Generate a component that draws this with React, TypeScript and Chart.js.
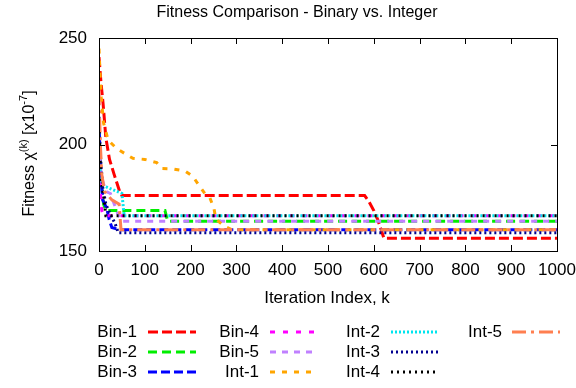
import React, { useEffect, useRef } from "react";
import Chart from "chart.js/auto";

const FONT = "'Liberation Sans', Arial, Helvetica, sans-serif";

// Axis ticks
const xTicks = [0, 100, 200, 300, 400, 500, 600, 700, 800, 900, 1000];
const yTicks = [150, 200, 250];

// Convergence histories: iteration index k and fitness value (x1e-7)
const bin1K = [0, 4, 9, 15, 23, 33, 45, 50, 580, 590, 600, 608, 616, 622, 1000];
const bin1V = [241, 230, 219, 203, 193, 186, 178, 176, 176, 173, 169, 165, 160, 156, 156];

const bin2K = [0, 3, 6, 10, 15, 144, 150, 1000];
const bin2V = [207, 190, 180, 172, 169, 169, 164, 164];

const bin3K = [0, 3, 8, 17, 22, 28, 45, 1000];
const bin3V = [211, 188, 174, 170, 165, 161, 160, 160];

const bin4K = [0, 3, 6, 10, 1000];
const bin4V = [195, 178, 169, 166.5, 166.5];

const bin5K = [0, 5, 15, 25, 40, 50, 1000];
const bin5V = [200, 185, 178, 177, 168, 164, 164];

const int1K = [0, 2, 5, 10, 20, 39, 74, 100, 126, 137, 162, 188, 205, 216, 231, 242, 251, 255, 271, 290, 1000];
const int1V = [245, 235, 222, 210, 202, 198, 193.5, 193, 191.5, 188.7, 188.5, 187.5, 185, 181.5, 177, 175, 170, 165, 162, 160, 160];

const int2K = [0, 3, 8, 17, 50, 55, 1000];
const int2V = [196, 185, 181, 180, 177, 166.5, 166.5];

const int3K = [0, 3, 8, 15, 25, 35, 42, 1000];
const int3V = [213, 195, 180, 172, 167, 163, 158.6, 158.6];

const int4K = [0, 2, 5, 10, 15, 1000];
const int4V = [212, 195, 182, 176, 166.5, 166.5];

const int5K = [0, 3, 6, 12, 28, 44, 48, 1000];
const int5V = [225, 200, 186, 178, 174, 172, 160, 160];

const seriesNames = ["Bin-1", "Bin-2", "Bin-3", "Bin-4", "Bin-5", "Int-1", "Int-2", "Int-3", "Int-4", "Int-5"];
const seriesK = [bin1K, bin2K, bin3K, bin4K, bin5K, int1K, int2K, int3K, int4K, int5K];
const seriesV = [bin1V, bin2V, bin3V, bin4V, bin5V, int1V, int2V, int3V, int4V, int5V];
const seriesColors = ["#ff0000", "#00ee00", "#0000ff", "#ff00ff", "#c080ff", "#ffa500", "#00e5ee", "#000090", "#000000", "#ff7f50"];
const seriesDash = [
  [10, 4],
  [9, 5],
  [9, 4],
  [5, 8],
  [6, 6],
  [5, 7],
  [2, 2],
  [2, 3],
  [2, 4],
  [14, 5, 3, 5],
];

// Legend grid: column positions (text right edge, sample start) and row centres
const legendCols = [
  { textRight: 137, sample: 148 },
  { textRight: 259, sample: 270 },
  { textRight: 380, sample: 391 },
  { textRight: 502, sample: 512 },
];
const legendRows = [332, 352, 372];
const legendSampleLen = 48;

const framePlugin = {
  id: "frameAndTicks",
  afterDatasetsDraw(chart: any) {
    const { ctx, chartArea: a, scales } = chart;
    ctx.save();
    ctx.strokeStyle = "#000";
    ctx.lineWidth = 1;
    ctx.setLineDash([]);
    ctx.strokeRect(Math.round(a.left) + 0.5, Math.round(a.top) + 0.5, Math.round(a.right - a.left), Math.round(a.bottom - a.top));
    const tl = 6;
    ctx.beginPath();
    xTicks.forEach((t) => {
      const x = Math.round(scales.x.getPixelForValue(t)) + 0.5;
      ctx.moveTo(x, a.bottom);
      ctx.lineTo(x, a.bottom - tl);
      ctx.moveTo(x, a.top);
      ctx.lineTo(x, a.top + tl);
    });
    yTicks.forEach((t) => {
      const y = Math.round(scales.y.getPixelForValue(t)) + 0.5;
      ctx.moveTo(a.left, y);
      ctx.lineTo(a.left + tl, y);
      ctx.moveTo(a.right, y);
      ctx.lineTo(a.right - tl, y);
    });
    ctx.stroke();
    ctx.restore();
  },
};

const textPlugin = {
  id: "titlesAndLegend",
  afterDraw(chart: any) {
    const { ctx, chartArea: a } = chart;
    ctx.save();
    ctx.fillStyle = "#000";

    // Title
    ctx.font = `16px ${FONT}`;
    ctx.textAlign = "center";
    ctx.textBaseline = "middle";
    ctx.fillText("Fitness Comparison - Binary vs. Integer", 297, 13);

    // X-axis title
    ctx.font = `17px ${FONT}`;
    ctx.fillText("Iteration Index, k", 327, 298);

    // Y-axis title with superscripts
    const cy = (a.top + a.bottom) / 2 + 9;
    ctx.translate(28, cy);
    ctx.rotate(-Math.PI / 2);
    const big = `16px ${FONT}`;
    const small = `11px ${FONT}`;
    const parts: [string, boolean][] = [
      ["Fitness \u03c7", false],
      ["(k)", true],
      [" [x10", false],
      ["-7", true],
      ["]", false],
    ];
    let total = 0;
    parts.forEach(([s, sup]) => {
      ctx.font = sup ? small : big;
      total += ctx.measureText(s).width;
    });
    let px = -total / 2;
    ctx.textAlign = "left";
    ctx.textBaseline = "alphabetic";
    parts.forEach(([s, sup]) => {
      ctx.font = sup ? small : big;
      ctx.fillText(s, px, sup ? -1 : 6);
      px += ctx.measureText(s).width;
    });
    ctx.setTransform(1, 0, 0, 1, 0, 0);

    // Legend
    ctx.font = `17px ${FONT}`;
    ctx.textBaseline = "middle";
    chart.data.datasets.forEach((ds: any, i: number) => {
      const col = legendCols[Math.floor(i / legendRows.length)];
      const y = legendRows[i % legendRows.length];
      ctx.textAlign = "right";
      ctx.fillStyle = "#000";
      ctx.fillText(ds.label, col.textRight, y);
      ctx.strokeStyle = ds.borderColor;
      ctx.lineWidth = ds.borderWidth;
      ctx.setLineDash(ds.borderDash);
      ctx.beginPath();
      ctx.moveTo(col.sample, y);
      ctx.lineTo(col.sample + legendSampleLen, y);
      ctx.stroke();
    });
    ctx.restore();
  },
};

export default function App() {
  const ref = useRef<HTMLCanvasElement | null>(null);

  useEffect(() => {
    if (!ref.current) return;
    const datasets = seriesNames.map((name, i) => ({
      label: name,
      data: seriesK[i].map((k, j) => ({ x: k, y: seriesV[i][j] })),
      borderColor: seriesColors[i],
      backgroundColor: seriesColors[i],
      borderWidth: 3,
      borderDash: seriesDash[i],
      pointRadius: 0,
      fill: false,
      tension: 0,
      order: seriesNames.length - i,
    }));
    const chart = new Chart(ref.current, {
      type: "line",
      data: { datasets },
      options: {
        animation: false,
        responsive: false,
        devicePixelRatio: 1,
        layout: { padding: { top: 38, right: 19, left: 0, bottom: 0 } },
        plugins: { legend: { display: false }, title: { display: false }, tooltip: { enabled: false } },
        scales: {
          x: {
            type: "linear",
            min: 0,
            max: 1000,
            afterBuildTicks: (s: any) => {
              s.ticks = xTicks.map((v) => ({ value: v }));
            },
            afterFit: (s: any) => {
              s.height = 137;
              s.paddingLeft = 0;
              s.paddingRight = 0;
            },
            grid: { display: true, drawOnChartArea: false, drawTicks: false },
            border: { display: false },
            ticks: {
              color: "#000",
              font: { family: FONT, size: 17 },
              padding: 9,
              maxRotation: 0,
              autoSkip: false,
              callback: (v: any) => String(v),
            },
          },
          y: {
            type: "linear",
            min: 150,
            max: 250,
            afterBuildTicks: (s: any) => {
              s.ticks = yTicks.map((v) => ({ value: v }));
            },
            afterFit: (s: any) => {
              s.width = 99;
              s.paddingTop = 0;
              s.paddingBottom = 0;
            },
            grid: { display: true, drawOnChartArea: false, drawTicks: false },
            border: { display: false },
            ticks: { color: "#000", font: { family: FONT, size: 17 }, padding: 12, callback: (v: any) => String(v) },
          },
        },
      },
      plugins: [framePlugin, textPlugin],
    });
    return () => chart.destroy();
  }, []);

  return (
    <div style={{ position: "absolute", left: 0, top: 0, width: 576, height: 388, background: "#fff" }}>
      <canvas ref={ref} width={576} height={388} />
    </div>
  );
}
